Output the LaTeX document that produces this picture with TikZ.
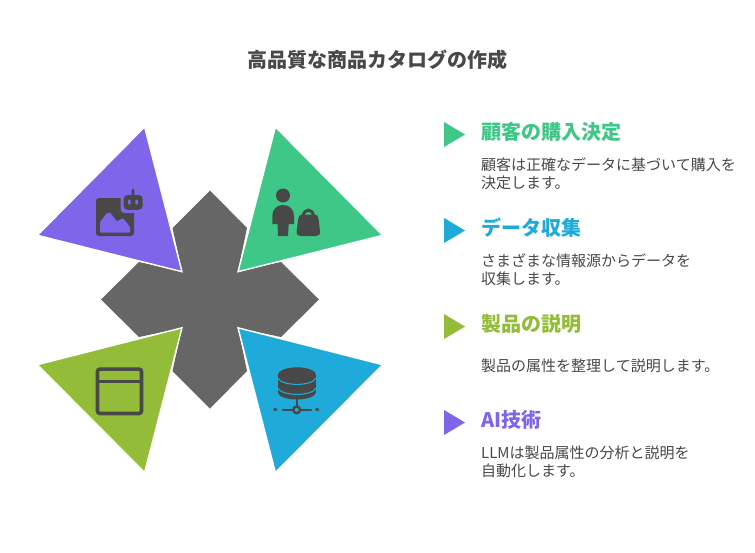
\documentclass[tikz,border=0pt]{standalone}
\usepackage{fontspec}
\setmainfont{Noto Sans CJK JP}
\definecolor{cgreen}{HTML}{3EC786}
\definecolor{cpurple}{HTML}{7E65E9}
\definecolor{colive}{HTML}{93BC39}
\definecolor{cblue}{HTML}{1EABDA}
\definecolor{cgray}{HTML}{666666}
\definecolor{cicon}{HTML}{484848}
\tikzset{
  tri/.style={draw=white,line width=1.4pt,line join=miter},
  mark tri/.style={fill=#1,draw=none},
  ttl/.style={anchor=center,inner sep=0,font=\fontsize{20}{24}\selectfont\bfseries,text=cicon},
  hd/.style={anchor=west,inner sep=0,font=\fontsize{20}{24}\selectfont\bfseries,text=#1},
  bd/.style={anchor=west,inner sep=0,font=\fontsize{15}{18}\selectfont,text=cicon},
  ico/.style={fill=cicon,draw=none}
}
\begin{document}
\begin{tikzpicture}[x=1pt,y=-1pt]
\useasboundingbox[fill=white] (0,0) rectangle (755,552);
\node[ttl] (title) at (377.5,60) {高品質な商品カタログの作成};
% central cross
\fill[cgray] (210,190.5) -- (247,228) -- (238,271) -- (281,262) -- (319,299.5) -- (281,337) -- (238,328) -- (247,371) -- (210,408.5) -- (172.5,371) -- (182,328) -- (139,337) -- (101,299.5) -- (139,262) -- (182,271) -- (172.5,228) -- cycle;
% triangles
\filldraw[tri,fill=cpurple] (144.6,127) -- (37.4,235.3) -- (182,271.7) -- cycle;
\filldraw[tri,fill=cgreen] (275.4,127) -- (382.6,235.3) -- (238,271.7) -- cycle;
\filldraw[tri,fill=colive] (144.6,472.5) -- (37.4,364.7) -- (182,327.8) -- cycle;
\filldraw[tri,fill=cblue] (275.4,472.5) -- (382.6,364.7) -- (238,327.8) -- cycle;
% image + robot icon
\fill[ico,rounded corners=3pt] (96,198) rectangle (134,236);
\fill[cpurple,rounded corners=1pt] (100,232.5) -- (100,222) -- (107,213) -- (110,212.5) -- (117,221.5) -- (123,218) -- (130,227) -- (130,232.5) -- cycle;
\fill[cpurple,rounded corners=4pt] (120.5,192) rectangle (146,213);
\fill[ico,rounded corners=4pt] (123.7,195) rectangle (142.7,209.8);
\fill[ico,rounded corners=1pt] (131.7,189) rectangle (134.4,196);
\fill[cpurple,rounded corners=1pt] (128.2,199.5) rectangle (130.6,204.5);
\fill[cpurple,rounded corners=1pt] (135.4,199.5) rectangle (137.8,204.5);
% person + bag icon
\fill[ico] (283,195.5) circle (7);
\fill[ico] (272.3,224) -- (272.3,216) .. controls (272.3,209) and (277,205) .. (283,205) .. controls (289,205) and (294,209) .. (294,216) -- (294,224) -- (288.7,224) -- (288,236) -- (278,236) -- (277.5,224) -- cycle;
\draw[cicon,line width=3pt] (303.2,217) .. controls (303.2,207.8) and (313.6,207.8) .. (313.6,217);
\fill[ico] (302,214.5) -- (314.8,214.5) .. controls (317,214.5) and (318,216) .. (318.5,219) -- (320,231) .. controls (320.3,234.5) and (319,236) .. (316,236) -- (300.7,236) .. controls (297.7,236) and (296.4,234.5) .. (296.7,231) -- (298.2,219) .. controls (298.7,216) and (299.8,214.5) .. (302,214.5) -- cycle;
% window icon
\draw[cicon,line width=3.6pt,rounded corners=2.5pt] (97.5,369.1) rectangle (141.5,413.5);
\draw[cicon,line width=3.4pt] (97.5,381.5) -- (141.5,381.5);
% database icon
\fill[ico] (277.7,375) rectangle (316.1,392);
\fill[ico] (296.9,375) ellipse[x radius=19.2,y radius=7.7];
\fill[ico] (296.9,392) ellipse[x radius=19.2,y radius=7.5];
\draw[cblue,line width=1.1pt] (277.7,378) .. controls (282,386.5) and (311.8,386.5) .. (316.1,378);
\draw[cblue,line width=1.1pt] (277.7,388) .. controls (282,396.5) and (311.8,396.5) .. (316.1,388);
\draw[cicon,line width=2.4pt] (296.7,399) -- (296.7,407);
\draw[cicon,line width=2.6pt,line cap=round] (283,409.8) -- (311,409.8);
\draw[cicon,line width=2.4pt,fill=cblue] (296.7,409.8) circle (3.4);
\draw[cicon,line width=2.8pt,line cap=round] (274.5,409.8) -- (276,409.8);
\draw[cicon,line width=2.8pt,line cap=round] (316.5,409.8) -- (318,409.8);
% legend markers
\fill[mark tri=cgreen] (444,122) -- (465,134.5) -- (444,147) -- cycle;
\fill[mark tri=cblue] (444,218) -- (465,230.5) -- (444,243) -- cycle;
\fill[mark tri=colive] (444,314) -- (465,326.5) -- (444,339) -- cycle;
\fill[mark tri=cpurple] (444,410) -- (465,422.5) -- (444,435) -- cycle;
% legend text
\node[hd=cgreen] (h1) at (481,132) {顧客の購入決定};
\node[bd] (b1a) at (481,164.5) {顧客は正確なデータに基づいて購入を};
\node[bd] (b1b) at (481,182.5) {決定します。};
\node[hd=cblue] (h2) at (481,228) {データ収集};
\node[bd] (b2a) at (481,260.5) {さまざまな情報源からデータを};
\node[bd] (b2b) at (481,278.5) {収集します。};
\node[hd=colive] (h3) at (481,324) {製品の説明};
\node[bd] (b3a) at (481,365.5) {製品の属性を整理して説明します。};
\node[hd=cpurple] (h4) at (481,420) {AI技術};
\node[bd] (b4a) at (481,452.5) {LLMは製品属性の分析と説明を};
\node[bd] (b4b) at (481,470.5) {自動化します。};
\end{tikzpicture}
\end{document}
